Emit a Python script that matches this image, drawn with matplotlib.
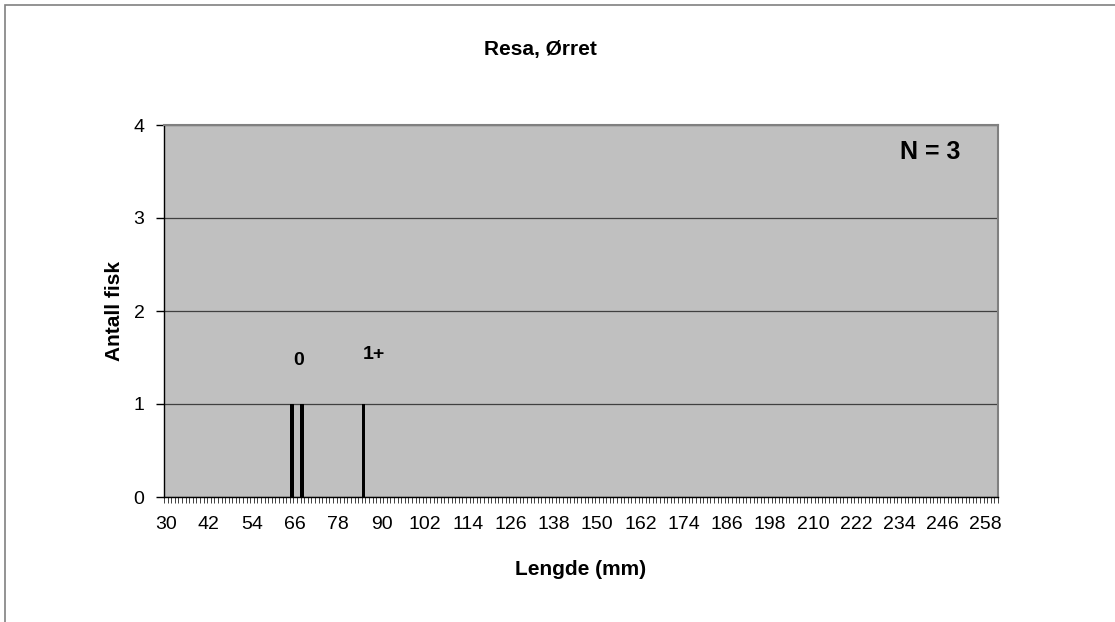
import numpy as np
import matplotlib.pyplot as plt
from matplotlib.patches import Rectangle

plt.rcParams["font.family"] = ["Liberation Sans", "DejaVu Sans"]

# Length classes (mm) and fish counts
lengths = [65, 68, 85]
counts = [1, 1, 1]
x_first, x_last = 30, 261
label_step = 12
y_ticks = [0, 1, 2, 3, 4]
age_labels = ["0", "1+"]
age_label_pos = [(66.9, 1.47), (87.9, 1.53)]
n_fish = sum(counts)

fig = plt.figure(figsize=(11.15, 6.22), dpi=100)
ax = fig.add_axes([164 / 1115, 1 - 497 / 622, 834 / 1115, 372 / 622])
ax.set_facecolor("#C0C0C0")

# outer chart border
fig.patches.append(Rectangle((5 / 1115, -0.1), 1.2, 1.1 - 5 / 622, transform=fig.transFigure,
                             fill=False, edgecolor="#808080", lw=1.2))

ax.bar(lengths, counts, width=1.1, color="black", zorder=3)

for lab, (x, y) in zip(age_labels, age_label_pos):
    ax.text(x, y, lab, ha="center", va="center", fontsize=14, fontweight="bold")

ax.text(0.919, 0.927, f"N = {n_fish}", transform=ax.transAxes,
        ha="center", va="center", fontsize=18, fontweight="bold")

ax.set_xlim(x_first - 0.5, x_last + 0.5)
ax.set_ylim(0, 4)
ax.set_yticks(y_ticks)
ax.yaxis.grid(True, color="#404040", lw=0.9)
ax.set_axisbelow(True)

ax.set_xticks(np.arange(x_first, x_last + 1, label_step))
ax.set_xticks(np.arange(x_first - 0.5, x_last + 1, 1), minor=True)
ax.tick_params(axis="x", which="major", length=0, pad=14, labelsize=14)
ax.tick_params(axis="x", which="minor", length=4, width=0.7, color="#404040")
ax.tick_params(axis="y", length=6, width=1, pad=8, labelsize=14)

for s in ["top", "right"]:
    ax.spines[s].set_color("#808080")
    ax.spines[s].set_linewidth(1.5)
for s in ["left", "bottom"]:
    ax.spines[s].set_color("black")
    ax.spines[s].set_linewidth(1)

ax.set_xlabel("Lengde (mm)", fontsize=15, fontweight="bold", labelpad=19)
ax.set_ylabel("Antall fisk", fontsize=15, fontweight="bold", labelpad=7)
fig.text(540 / 1115, 1 - 50 / 622, "Resa, Ørret", ha="center", va="center",
         fontsize=15, fontweight="bold")

fig.savefig("out.png", dpi=100)
